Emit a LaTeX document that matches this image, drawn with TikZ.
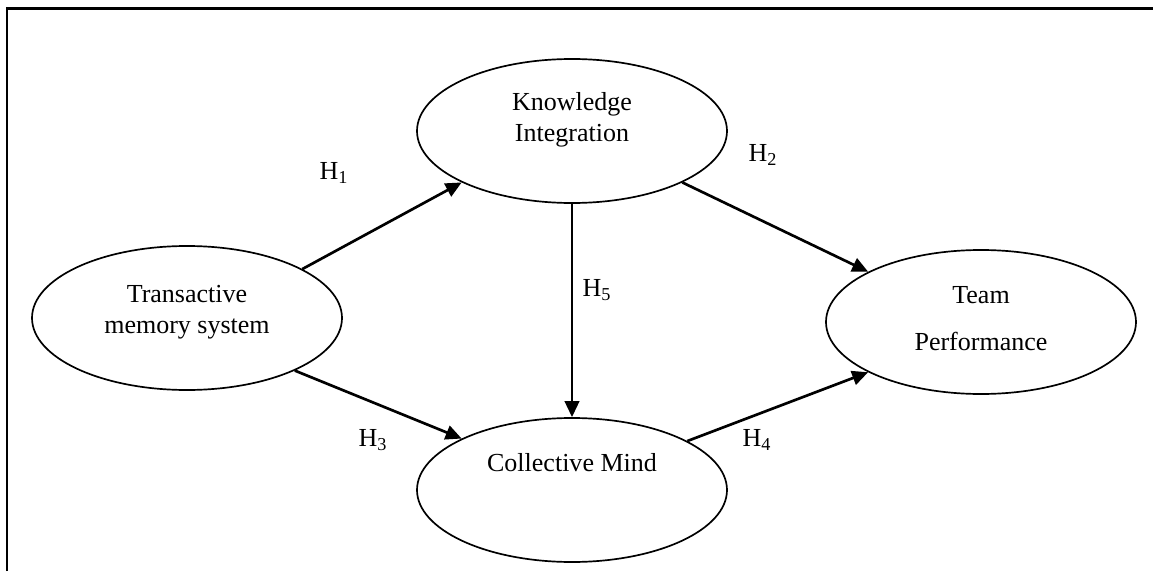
\documentclass[tikz,border=0pt]{standalone}
\usepackage{fontspec}
\setmainfont{Liberation Serif}
\usetikzlibrary{shapes.geometric,arrows.meta}
\tikzset{
  construct/.style={ellipse, draw, line width=1.2pt, minimum width=7.75cm, minimum height=3.6cm, inner sep=0pt},
  ctext/.style={align=center, inner sep=0pt, font=\fontsize{18.5}{22}\selectfont},
  hyp/.style={line width=1.9pt, -{Triangle[length=0.4cm,width=0.36cm]}},
  hlabel/.style={inner sep=0pt, font=\fontsize{18.5}{22}\selectfont}
}
\begin{document}
\begin{tikzpicture}
    \useasboundingbox (0,0) rectangle (28.825,14.275);
    % Frame, open at right and bottom
    \draw[line width=2.1pt] (0.175,0) -- (0.175,14.0625) -- (28.825,14.0625);

    % Constructs
    \node[construct] (tms) at (4.675,6.325) {};
    \node[construct] (ki) at (14.3,11.0) {};
    \node[construct] (cm) at (14.3,2.025) {};
    \node[construct] (tp) at (24.525,6.225) {};
    \node[ctext] (tmsname) at (4.675,6.475) {Transactive\\memory system};
    \node[ctext] (kiname) at (14.3,11.275) {Knowledge\\Integration};
    \node[ctext] (cmname) at (14.3,2.7) {Collective Mind};
    \node[ctext] (tpname) at (24.525,6.3) {Team\\[0.4cm]Performance};

    % Hypotheses
    \draw[hyp] (tms.23) -- (ki.205);
    \draw[hyp] (ki.335) -- (tp.156);
    \draw[hyp] (tms.334) -- (cm.155);
    \draw[hyp] (cm.23) -- (tp.204);
    \draw[hyp] (ki.south) -- (cm.north);
    \node[hlabel] (h1) at (8.35,9.95) {H\textsubscript{1}};
    \node[hlabel] (h2) at (19.075,10.4) {H\textsubscript{2}};
    \node[hlabel] (h3) at (9.325,3.275) {H\textsubscript{3}};
    \node[hlabel] (h4) at (18.925,3.275) {H\textsubscript{4}};
    \node[hlabel] (h5) at (14.925,7.025) {H\textsubscript{5}};

\end{tikzpicture}
\end{document}
